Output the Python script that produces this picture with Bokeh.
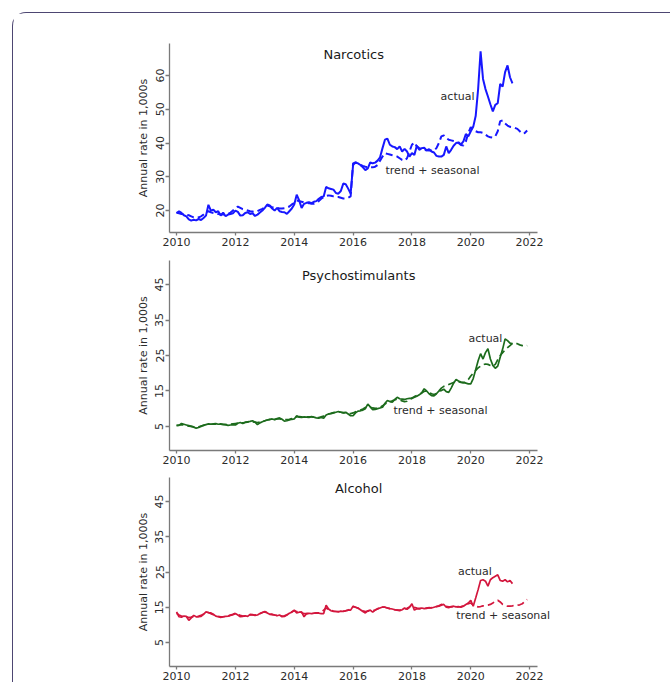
from bokeh.plotting import figure
from bokeh.models import Range1d, FixedTicker, Label
from bokeh.layouts import column
from bokeh.embed import file_html
from bokeh.resources import INLINE

# ---------------- data (monthly, Jan 2010 onward) ----------------
narc_actual = [
    19.2, 19.8, 19.3, 18.6, 18.3, 17.4, 17.0, 17.3, 17.1, 17.5, 17.2, 17.8,
    18.5, 21.7, 20.0, 20.3, 19.5, 19.8, 18.5, 19.4, 18.3, 18.8, 19.0, 19.2,
    20.0, 19.6, 18.5, 18.6, 19.3, 19.5, 19.0, 19.2, 18.4, 18.8, 19.4, 20.0,
    20.8, 21.8, 21.5, 20.6, 20.0, 20.8, 19.8, 19.6, 19.5, 19.0, 19.8, 20.6,
    21.8, 24.7, 23.0, 20.8, 22.0, 22.3, 22.5, 22.2, 22.6, 22.8, 23.5, 24.0,
    24.2, 27.0, 26.6, 26.4, 26.2, 25.2, 25.0, 25.8, 28.0, 27.8, 26.5, 25.0,
    33.5, 34.3, 34.0, 33.5, 32.8, 32.0, 32.5, 34.3, 34.0, 34.2, 34.8, 35.8,
    38.5, 41.0, 41.3, 39.5, 39.0, 38.8, 38.2, 39.0, 37.5, 38.3, 37.5, 36.0,
    37.0, 36.5, 39.2, 38.0, 38.5, 38.6, 37.8, 38.2, 37.5, 37.2, 36.2, 36.0,
    36.0, 36.5, 39.0, 37.0, 38.0, 39.2, 40.0, 40.2, 39.6, 40.5, 42.7, 42.0,
    43.5, 44.8, 48.0, 56.0, 67.2, 59.0, 56.0, 53.8, 51.5, 49.4, 51.3, 51.8,
    57.5, 56.7, 61.0, 63.0, 59.5, 57.7,
]
narc_trend = [
    19.4, 19.2, 19.0, 19.0, 18.8, 18.6, 18.3, 18.0, 17.9, 18.0, 18.3, 18.8,
    19.6, 19.8, 19.5, 19.3, 19.2, 19.0, 18.9, 18.8, 18.9, 19.0, 19.4, 20.0,
    20.8, 21.2, 20.8, 20.4, 20.2, 20.0, 19.8, 19.7, 19.6, 19.8, 20.2, 20.5,
    21.0, 21.5, 21.3, 21.0, 20.8, 20.8, 20.6, 20.6, 20.7, 20.9, 21.2, 21.8,
    22.2, 23.0, 22.8, 22.6, 22.4, 22.3, 22.2, 22.0, 22.0, 22.2, 22.8, 23.5,
    24.0, 24.3, 24.5, 24.4, 24.2, 24.0, 24.0, 23.8, 23.6, 23.6, 23.8, 24.2,
    34.0, 34.3, 33.8, 33.5, 33.2, 33.0, 32.9, 32.8, 32.8, 33.0, 33.5, 34.8,
    36.0, 37.0, 36.8, 36.6, 36.4, 36.2, 36.0, 35.5, 35.0, 34.8, 35.5, 37.5,
    39.5, 40.2, 39.0, 38.5, 38.2, 38.0, 37.9, 37.8, 37.8, 37.8, 38.5, 40.0,
    42.0, 42.3, 41.5, 41.0, 40.8, 40.6, 40.4, 40.0, 39.4, 39.3, 40.5, 43.0,
    44.7, 44.2, 43.5, 43.2, 43.2, 43.0, 42.5, 42.0, 41.7, 41.6, 42.0, 43.5,
    46.5, 46.7, 45.8, 45.2, 44.8, 44.7, 44.5, 44.2, 43.5, 42.8, 43.0, 43.7,
]
psych_actual = [
    5.2, 5.3, 5.8, 5.6, 5.4, 5.2, 5.0, 4.8, 4.5, 4.7, 5.0, 5.3,
    5.5, 5.7, 5.6, 5.7, 5.8, 5.6, 5.7, 5.6, 5.5, 5.3, 5.4, 5.5,
    5.4, 5.9, 6.1, 5.8, 6.2, 6.3, 6.4, 6.6, 6.2, 5.5, 6.0, 6.3,
    6.6, 6.8, 7.0, 7.1, 6.9, 7.2, 7.4, 7.0, 6.5, 6.6, 6.8, 7.0,
    7.1, 8.0, 7.6, 7.5, 7.7, 7.6, 7.5, 7.8, 7.6, 7.4, 7.3, 7.5,
    7.3, 8.2, 8.5, 8.6, 8.8, 9.0, 9.2, 9.0, 8.8, 9.0, 8.5, 8.0,
    8.0, 8.8, 9.3, 9.4, 9.6, 10.0, 11.3, 10.5, 9.7, 9.8, 10.0, 10.2,
    10.4, 11.5, 12.3, 12.0, 11.8, 12.6, 13.2, 12.8, 12.7, 12.6, 12.8, 12.9,
    12.9, 13.2, 13.5, 13.9, 14.5, 15.6, 15.0, 14.2, 13.7, 13.6, 14.2, 15.0,
    15.1, 15.5, 14.8, 14.6, 15.8, 17.2, 18.2, 17.8, 17.5, 17.4, 17.2, 17.0,
    17.0, 18.5, 21.0, 23.5, 25.5, 24.0, 25.8, 26.9, 24.0, 22.2, 21.4, 22.0,
    24.5, 26.8, 29.7, 29.2, 28.5, 28.3,
]
psych_trend = [
    5.3, 5.4, 5.5, 5.4, 5.2, 5.1, 5.0, 4.9, 4.8, 4.9, 5.1, 5.3,
    5.5, 5.6, 5.6, 5.6, 5.6, 5.6, 5.6, 5.5, 5.5, 5.5, 5.6, 5.7,
    5.8, 5.9, 6.0, 6.0, 6.1, 6.2, 6.3, 6.3, 6.2, 6.1, 6.2, 6.4,
    6.6, 6.8, 6.9, 7.0, 7.0, 7.1, 7.1, 7.0, 6.9, 6.9, 7.0, 7.2,
    7.4, 7.7, 7.8, 7.7, 7.7, 7.7, 7.7, 7.7, 7.6, 7.5, 7.5, 7.7,
    7.9, 8.2, 8.5, 8.7, 8.9, 9.0, 9.1, 9.0, 8.9, 8.8, 8.6, 8.6,
    8.8, 9.1, 9.4, 9.6, 9.9, 10.3, 10.6, 10.4, 10.2, 10.1, 10.2, 10.4,
    10.8, 11.3, 11.8, 12.0, 12.2, 12.5, 12.7, 12.5, 12.2, 12.0, 12.1, 12.5,
    13.0, 13.4, 13.7, 14.0, 14.4, 14.9, 15.0, 14.6, 14.2, 14.0, 14.3, 15.0,
    15.8, 16.3, 16.5, 16.8, 17.1, 17.4, 17.7, 17.6, 17.4, 17.3, 17.5, 18.2,
    19.2, 20.0, 20.8, 21.5, 22.0, 22.4, 22.6, 22.5, 22.2, 22.0, 22.5, 23.8,
    25.0, 25.8, 26.6, 27.2, 27.8, 28.4, 28.6, 28.3, 28.0, 27.8, 27.7, 27.8,
]
alc_actual = [
    13.7, 12.3, 12.2, 12.5, 12.4, 11.3, 12.0, 12.7, 12.3, 12.3, 12.4, 13.0,
    13.7, 13.5, 13.4, 13.0, 12.5, 12.3, 12.1, 12.3, 12.4, 12.5, 12.7, 12.9,
    13.2, 12.8, 12.3, 12.4, 12.6, 12.4, 13.0, 12.9, 12.7, 12.8, 13.2, 13.5,
    13.7, 13.4, 13.0, 12.9, 12.8, 12.6, 12.8, 12.3, 12.4, 12.8, 13.3, 13.6,
    14.2, 13.4, 13.6, 13.7, 12.3, 13.2, 13.3, 13.2, 13.3, 13.4, 13.3, 13.2,
    13.2, 15.6, 14.5, 14.0, 13.8, 13.8, 13.7, 13.9, 13.8, 14.0, 14.2, 14.2,
    15.3, 15.0, 14.8, 14.3, 13.8, 13.4, 14.0, 14.2, 13.6, 14.2, 14.6, 14.8,
    15.1, 15.0, 14.8, 14.6, 14.5, 14.3, 14.2, 14.0, 14.3, 14.8, 14.4, 15.0,
    16.0, 14.2, 14.6, 14.5, 14.8, 14.6, 14.7, 14.9, 14.8, 15.0, 15.2, 15.3,
    15.6, 15.8, 15.0, 14.9, 15.2, 15.3, 15.1, 15.2, 15.0, 15.3, 15.8, 16.2,
    17.0, 15.3, 17.6, 20.0, 22.6, 22.8, 22.4, 21.0, 22.8, 23.4, 23.8, 24.2,
    22.6, 22.4, 22.8, 22.2, 22.6, 21.7,
]
alc_trend = [
    13.3, 12.8, 12.5, 12.4, 12.3, 12.1, 12.2, 12.4, 12.4, 12.5, 12.7, 13.1,
    13.6, 13.5, 13.2, 12.9, 12.6, 12.4, 12.3, 12.3, 12.4, 12.5, 12.8, 13.0,
    13.3, 13.0, 12.7, 12.5, 12.5, 12.6, 12.8, 12.8, 12.8, 12.9, 13.2, 13.5,
    13.8, 13.5, 13.2, 13.0, 12.8, 12.7, 12.6, 12.5, 12.6, 12.9, 13.3, 13.7,
    14.0, 13.8, 13.6, 13.4, 13.2, 13.2, 13.2, 13.2, 13.3, 13.4, 13.4, 13.5,
    14.2, 14.8, 14.4, 14.1, 13.9, 13.8, 13.8, 13.9, 13.9, 14.0, 14.2, 14.5,
    15.2, 15.0, 14.7, 14.3, 14.0, 13.8, 13.9, 14.0, 14.0, 14.2, 14.5, 14.8,
    15.2, 15.0, 14.8, 14.6, 14.4, 14.3, 14.2, 14.2, 14.3, 14.5, 14.7, 15.1,
    15.6, 15.0, 14.8, 14.7, 14.7, 14.7, 14.8, 14.8, 14.9, 15.0, 15.2, 15.4,
    15.8, 15.6, 15.3, 15.1, 15.1, 15.1, 15.1, 15.1, 15.2, 15.4, 15.7, 16.0,
    16.2, 15.6, 15.3, 15.1, 15.2, 15.4, 15.5, 15.6, 15.8, 16.2, 16.7, 17.0,
    16.5, 15.8, 15.5, 15.3, 15.3, 15.4, 15.6, 15.6, 15.7, 16.0, 16.6, 17.2,
]

start_year = 2010
x_ticks = [2010, 2012, 2014, 2016, 2018, 2020, 2022]
narc_y_ticks = [20, 30, 40, 50, 60]
other_y_ticks = [5, 15, 25, 35, 45]
titles = ["Narcotics", "Psychostimulants", "Alcohol"]

def months(n):
    return [start_year + i / 12 for i in range(n)]

FONT = "DejaVu Sans"
AX = "#7a7a7a"
TXT = "#2b2b2b"
X_LO, X_AXIS_HI, X_HI = 2009.76, 2022.27, 2022.88


def panel(title, actual, trend, color, lw, yr, yticks, top, fh, bottom, title_x, title_dy,
          act_lbl, trend_lbl):
    p = figure(frame_width=386, frame_height=fh,
               x_range=Range1d(X_LO, X_HI), y_range=Range1d(*yr),
               output_backend="svg", toolbar_location=None,
               min_border_left=156, min_border_right=115,
               min_border_top=top, min_border_bottom=bottom)
    p.outline_line_color = None
    p.xgrid.visible = False
    p.ygrid.visible = False
    p.background_fill_color = "white"
    p.border_fill_color = "white"

    p.line(months(len(trend)), trend, line_color=color, line_width=lw,
           line_dash="7 4")
    p.line(months(len(actual)), actual, line_color=color, line_width=lw)

    for ax in (p.xaxis[0], p.yaxis[0]):
        ax.axis_line_color = AX
        ax.axis_line_width = 1.3
        ax.major_tick_line_color = AX
        ax.major_tick_line_width = 1.3
        ax.minor_tick_line_color = None
        ax.major_tick_in = 0
        ax.major_label_text_font = FONT
        ax.major_label_text_font_size = "11px"
        ax.major_label_text_color = TXT
    p.xaxis.bounds = (X_LO, X_AXIS_HI)
    p.xaxis.ticker = FixedTicker(ticks=x_ticks)
    p.xaxis.major_tick_out = 3
    p.xaxis.major_label_standoff = 2
    p.yaxis.ticker = FixedTicker(ticks=yticks)
    p.yaxis.major_tick_out = 4
    p.yaxis.major_label_standoff = 2
    p.yaxis.major_label_orientation = "vertical"
    p.yaxis.axis_label = "Annual rate in 1,000s"
    p.yaxis.axis_label_text_font = FONT
    p.yaxis.axis_label_text_font_size = "11px"
    p.yaxis.axis_label_text_font_style = "normal"
    p.yaxis.axis_label_text_color = TXT
    p.yaxis.axis_label_standoff = 3

    p.add_layout(Label(x=title_x, y=fh - title_dy, y_units="screen", text=title,
                       text_align="center", text_baseline="middle",
                       text_font=FONT, text_font_size="13px", text_color="#1a1a1a"))
    for (lx, ly, txt) in (act_lbl, trend_lbl):
        p.add_layout(Label(x=lx, y=ly, text=txt, text_align="center",
                           text_baseline="middle", text_font=FONT,
                           text_font_size="11px", text_color=TXT))
    return p


p1 = panel(titles[0], narc_actual, narc_trend, "#1717ff", 2.0, (13.5, 69.5), narc_y_ticks,
           30, 189, 25, 2016.02, 11,
           (2019.55, 53.8, "actual"), (2018.7, 31.9, "trend + seasonal"))
p2 = panel(titles[1], psych_actual, psych_trend, "#1c6b1c", 1.7, (-1.8, 51.8), other_y_ticks,
           3, 190, 25, 2016.19, 15,
           (2020.5, 29.7, "actual"), (2018.97, 9.5, "trend + seasonal"))
p3 = panel(titles[2], alc_actual, alc_trend, "#d3163d", 1.7, (-1.8, 51.8), other_y_ticks,
           2, 189, 16, 2016.19, 11,
           (2020.14, 25.1, "actual"), (2021.1, 12.7, "trend + seasonal"))

layout = column(p1, p2, p3, margin=(12, 0, 0, 12),
                styles={"border-left": "1px solid #4d4672",
                        "border-top": "1px solid #4d4672",
                        "border-top-left-radius": "14px"})

open("out.html", "w").write(file_html(layout, INLINE))
